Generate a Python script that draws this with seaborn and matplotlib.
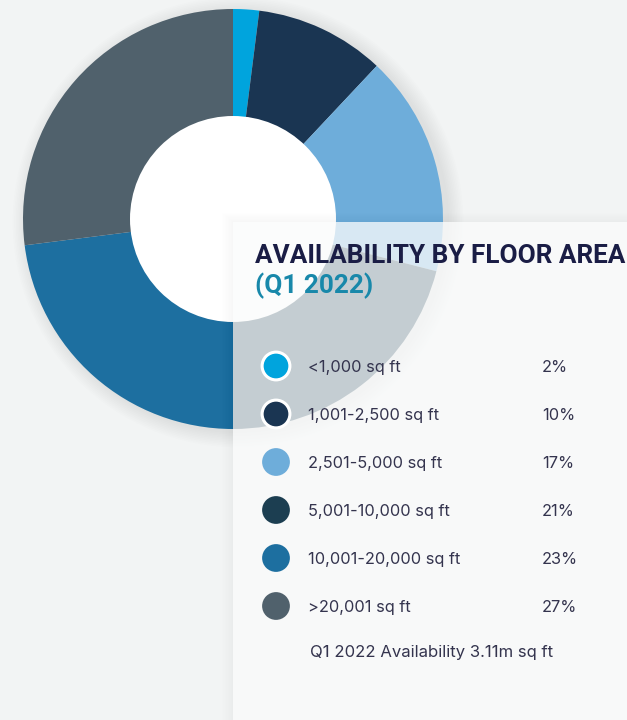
import matplotlib
matplotlib.use("Agg")
import matplotlib.pyplot as plt
import seaborn as sns
import pandas as pd
from matplotlib.patches import Rectangle, Circle

categories = ["<1,000 sq ft", "1,001-2,500 sq ft", "2,501-5,000 sq ft",
              "5,001-10,000 sq ft", "10,001-20,000 sq ft", ">20,001 sq ft"]
shares = [2, 10, 17, 21, 23, 27]
pct_labels = ["2%", "10%", "17%", "21%", "23%", "27%"]
colors = ["#00A4DD", "#1A3552", "#6EADDA", "#1C3E51", "#1D6FA0", "#50616C"]
title = "AVAILABILITY BY FLOOR AREA"
subtitle = "(Q1 2022)"
footer = "Q1 2022 Availability 3.11m sq ft"

sns.set_theme(style="white")
plt.rcParams["font.family"] = ["Inter", "DejaVu Sans"]

W, H = 627, 720
BG = "#F2F4F4"
fig = plt.figure(figsize=(6.27, 7.2), dpi=100)
fig.patch.set_facecolor(BG)
ax = fig.add_axes([0, 0, 1, 1])
ax.set_facecolor(BG)


def Y(y):
    return H - y


cx, cy, R, r = 233, 219, 210, 103

# soft shadow of donut
for i in range(10):
    ax.add_patch(Circle((cx + 5, Y(cy) - 3), R + 1 + i * 1.6, color="black",
                        alpha=0.009, lw=0, zorder=1))

ax.pie(shares, colors=colors, startangle=90, counterclock=False,
       center=(cx, Y(cy)), radius=R, wedgeprops=dict(linewidth=0, zorder=2),
       frame=True)
ax.add_patch(Circle((cx, Y(cy)), r, color="white", lw=0, zorder=3))

# panel with faint shadow
px, py = 233, 222
for i in range(8):
    ax.add_patch(Rectangle((px - 1 - i * 1.5, -10), 500, Y(py) + 10 + 1 + i * 1.2,
                           facecolor="black", alpha=0.004, lw=0, zorder=3.5))
ax.add_patch(Rectangle((px, -10), 500, Y(py) + 10, facecolor="#FDFEFE",
                       alpha=0.76, lw=0, zorder=4))

ax.text(255, Y(263), title, fontsize=18.8, fontweight="bold", color="#1A1D45",
        family=["Roboto", "DejaVu Sans"], ha="left", va="baseline", zorder=6)
ax.text(255, Y(293), subtitle, fontsize=18.8, fontweight="bold", color="#1888AA",
        family=["Roboto", "DejaVu Sans"], ha="left", va="baseline", zorder=6)

ys = [366 + 48 * i for i in range(len(categories))]
df = pd.DataFrame({"cat": categories, "x": [276] * len(categories),
                   "y": [Y(v) for v in ys]})
edges = ["white", "white"] + colors[2:]
sns.scatterplot(data=df, x="x", y="y", hue="cat", palette=colors, s=400,
                edgecolor=edges, linewidth=[2.2, 2.2, 0, 0, 0, 0],
                legend=False, ax=ax, zorder=6)

for cat, pct, yv in zip(categories, pct_labels, ys):
    ax.text(308, Y(yv + 6), cat, fontsize=11.8, color="#34344E", ha="left",
            va="baseline", zorder=6)
    ax.text(542, Y(yv + 6), pct, fontsize=11.8, color="#34344E", ha="left",
            va="baseline", zorder=6)

ax.text(310, Y(657), footer, fontsize=12, color="#34344E", ha="left",
        va="baseline", zorder=6)

ax.set_xlim(0, W)
ax.set_ylim(0, H)
ax.set_aspect("equal")
ax.set_axis_off()
fig.savefig("out.png", dpi=100, facecolor=BG)
